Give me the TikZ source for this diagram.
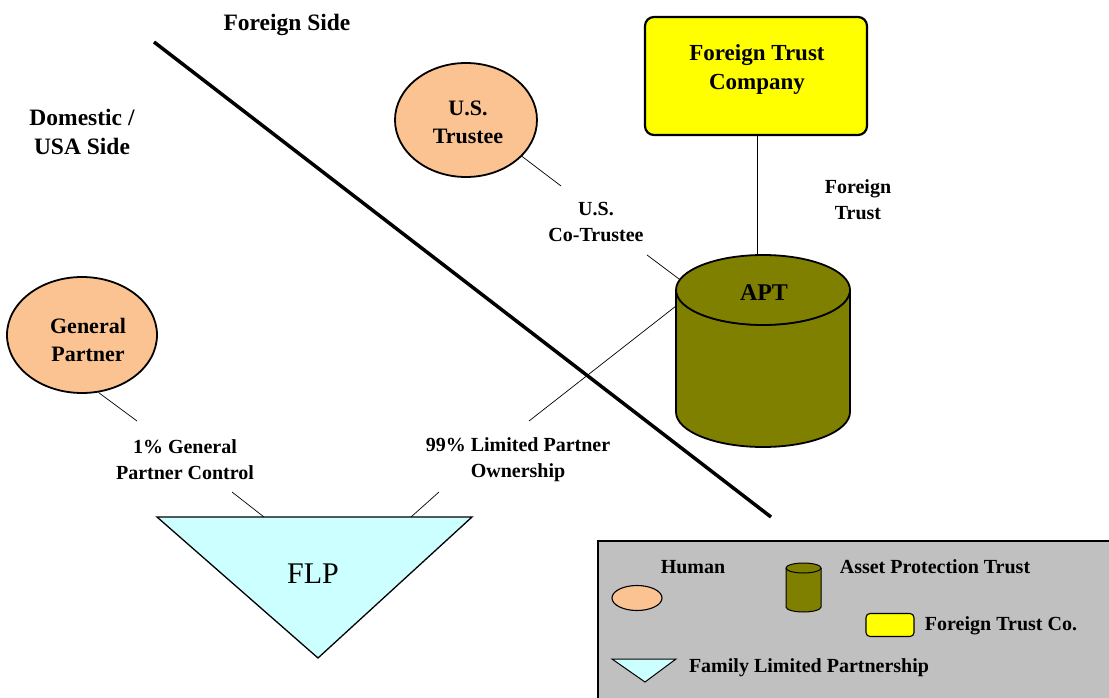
\documentclass[tikz,border=0pt]{standalone}
\usepackage{fontspec}
\setmainfont{Liberation Serif}
\usetikzlibrary{shapes.geometric}
\definecolor{humanfill}{RGB}{250,195,145}
\definecolor{aptfill}{RGB}{128,128,0}
\definecolor{ftcfill}{RGB}{255,255,0}
\definecolor{flpfill}{RGB}{204,255,255}
\definecolor{legendfill}{RGB}{192,192,192}
\begin{document}
\begin{tikzpicture}[x=1pt,y=-1pt,
  heading/.style={font=\bfseries\fontsize{23.5}{29}\selectfont, align=center, inner sep=0},
  lbl/.style={font=\bfseries\fontsize{20}{26}\selectfont, align=center, inner sep=0},
  legtext/.style={font=\bfseries\fontsize{20}{24}\selectfont, inner sep=0},
  human/.style={ellipse, draw, line width=1.8pt, fill=humanfill, inner sep=0,
    font=\bfseries\fontsize{22}{26}\selectfont, align=center},
  ftcbox/.style={draw, line width=2.2pt, fill=ftcfill, rounded corners=9pt, inner sep=0},
  thin/.style={line width=0.7pt},
  divider/.style={line width=3.5pt}
]
\useasboundingbox (0,0) rectangle (1109,698);
\fill[white] (0,0) rectangle (1109,698);

% dividing line
\coordinate (d1) at (154,42);
\coordinate (d2) at (771,517);
\draw[divider] (d1) -- (d2);

\node[heading] (fside) at (287,25) {Foreign Side};
\node[heading] (dside) at (82,132) {Domestic /\\USA Side};

% US Trustee
\node[human, minimum width=142pt, minimum height=114pt] (ust) at (466,120) {};
\node[font=\bfseries\fontsize{22}{28}\selectfont, align=center, inner sep=0] (usttext) at (468,122) {U.S.\\Trustee};

% General Partner
\node[human, minimum width=150pt, minimum height=116pt] (gp) at (82,335) {};
\node[font=\bfseries\fontsize{22}{28}\selectfont, align=center, inner sep=0] (gptext) at (88,340) {General\\Partner};

% Foreign Trust Company box
\node[ftcbox, minimum width=222pt, minimum height=118pt] (ftc) at (756,76) {};
\node[heading, font=\bfseries\fontsize{23}{29}\selectfont] (ftctext) at (757,70) {Foreign Trust\\Company};

% APT cylinder
\fill[aptfill] (676,290) -- (676,412) arc[start angle=180, end angle=0, x radius=87, y radius=35] -- (850,290) arc[start angle=0, end angle=-180, x radius=87, y radius=35] -- cycle;
\draw[line width=1.8pt] (676,290) -- (676,412) arc[start angle=180, end angle=0, x radius=87, y radius=35] -- (850,290);
\draw[line width=1.8pt] (763,290) ellipse[x radius=87, y radius=35];
\draw[line width=1.2pt] (676,290) arc[start angle=180, end angle=0, x radius=87, y radius=35];
\node[font=\bfseries\fontsize{24}{28}\selectfont, inner sep=0] (apt) at (764,293) {APT};
\coordinate (cyltop) at (757,255);
\coordinate (cyltl) at (679,279);
\coordinate (cyll) at (676,306);

% vertical connector
\draw[thin] (ftc.south -| cyltop) -- (cyltop);
\node[lbl] (ftlabel) at (858,200) {Foreign\\Trust};

% US co-trustee
\node[lbl] (cotr) at (596,222) {U.S.\\Co-Trustee};
\coordinate (c1) at (561,186);
\coordinate (c2) at (647,255);
\draw[thin] (ust.-33) -- (c1);
\draw[thin] (c2) -- (cyltl);

% FLP triangle
\coordinate (tl) at (157,517);
\coordinate (tr) at (472,517);
\coordinate (tb) at (318,658);
\draw[line width=1.3pt, fill=flpfill] (tl) -- (tr) -- (tb) -- cycle;
\node[font=\fontsize{30}{34}\selectfont, inner sep=0] (flp) at (313,574) {FLP};

% labels to FLP
\node[lbl] (gpc) at (185,460) {1\% General\\Partner Control};
\node[lbl] (lpo) at (518,460) {99\% Limited Partner\\Ownership};
\coordinate (g1) at (137,421);
\coordinate (g2) at (232,492);
\coordinate (g3) at (264,517);
\draw[thin] (gp.-74) -- (g1);
\draw[thin] (g2) -- (g3);
\coordinate (l1) at (529,421);
\coordinate (l2) at (439,492);
\coordinate (l3) at (411,517);
\draw[thin] (cyll) -- (l1);
\draw[thin] (l2) -- (l3);

% Legend
\draw[line width=1.3pt, fill=legendfill] (598,541) rectangle (1125,715);
\node[legtext] (lhuman) at (693,567) {Human};
\node[ellipse, draw, line width=1.1pt, fill=humanfill, minimum width=50pt, minimum height=25pt, inner sep=0] (lhumanshape) at (637,598) {};
\fill[aptfill] (786,568) -- (786,607) arc[start angle=180, end angle=0, x radius=17.5, y radius=5] -- (821,568) arc[start angle=0, end angle=-180, x radius=17.5, y radius=5] -- cycle;
\draw[line width=1pt] (786,568) -- (786,607) arc[start angle=180, end angle=0, x radius=17.5, y radius=5] -- (821,568);
\draw[line width=1pt] (803.5,568) ellipse[x radius=17.5, y radius=5];
\coordinate (laptshape) at (803.5,588);
\node[legtext] (lapt) at (935,567) {Asset Protection Trust};
\node[draw, line width=1.1pt, fill=ftcfill, rounded corners=4pt, minimum width=48pt, minimum height=23pt, inner sep=0] (lftcshape) at (890,625) {};
\node[legtext] (lftc) at (1001,626) {Foreign Trust Co.};
\draw[line width=1pt, fill=flpfill] (612,659) -- (676,659) -- (645,682) -- cycle;
\node[legtext] (lflp) at (809,668) {Family Limited Partnership};
\end{tikzpicture}
\end{document}
